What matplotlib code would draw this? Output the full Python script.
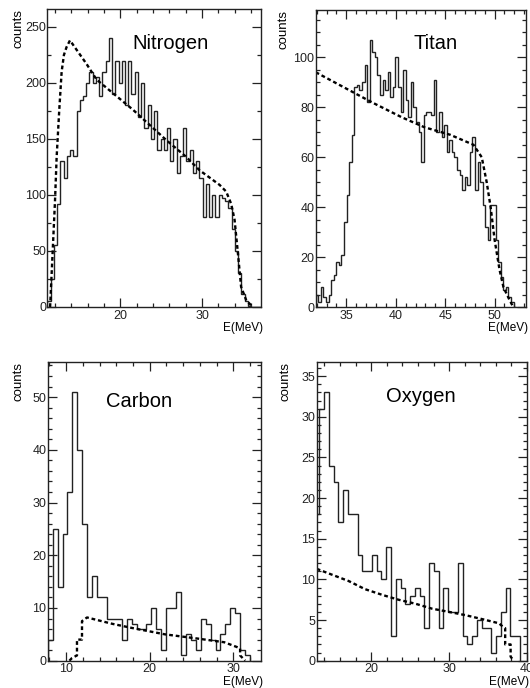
import numpy as np
import matplotlib.pyplot as plt
from matplotlib.ticker import MultipleLocator

plt.rcParams['font.family'] = ['Liberation Sans', 'DejaVu Sans']

# Nitrogen: measured histogram (bin start, bin width, counts) and simulation curve
n_lo, n_w = 11.1, 0.395
n_counts = [5, 25, 55, 92, 130, 115, 135, 140, 135, 175, 185, 188, 200, 210, 200, 205,
            188, 210, 220, 240, 190, 220, 200, 220, 180, 220, 190, 210, 170, 200, 160, 180,
            150, 175, 140, 150, 140, 160, 130, 150, 120, 135, 160, 130, 140, 120, 130, 115,
            80, 110, 80, 100, 80, 100, 97, 95, 88, 70, 50, 30, 12, 5, 1, 0, 0, 0]
n_sim_e = [11.42, 12.02, 12.22, 12.54, 12.83, 13.11, 13.43, 13.85, 15.87, 17.10, 21.56,
           25.62, 28.06, 29.70, 32.14, 32.95, 33.56, 33.97, 34.38, 34.77, 35.4, 36.19]
n_sim_c = [0, 95, 134, 176, 210, 225, 232, 238, 217, 203, 176,
           149, 134, 122, 109, 103, 92, 78, 48, 18, 6, 0]

# Titan
t_lo, t_w = 31.9, 0.26
t_counts = [5, 2, 8, 4, 2, 5, 11, 13, 18, 17, 21, 34, 45, 58, 69, 88, 89, 87, 90, 97,
            82, 107, 102, 100, 93, 85, 91, 87, 94, 84, 88, 100, 88, 78, 95, 83, 76, 90,
            80, 74, 70, 58, 77, 78, 78, 77, 91, 70, 78, 68, 73, 62, 67, 62, 60, 55, 53,
            47, 52, 49, 62, 68, 47, 58, 50, 41, 32, 27, 41, 41, 27, 18, 12, 7, 8, 4, 2, 0]
t_sim_e = [31.9, 37.57, 40.6, 42.9, 45.5, 47.86, 48.7, 49.2, 49.6, 50.0, 50.5, 50.9, 51.5, 51.9]
t_sim_c = [94, 82, 76, 72, 69, 65, 60, 50, 40, 27, 15, 8, 3, 0]

# Carbon
c_lo, c_w = 7.8, 0.59
c_counts = [4, 25, 14, 24, 32, 51, 40, 26, 12, 16, 12, 12, 8, 8, 8, 4, 8, 7, 6, 6, 7,
            10, 6, 2, 10, 10, 13, 1, 5, 4, 2, 8, 7, 4, 2, 5, 7, 10, 9, 2, 1]
c_sim_e = [10.4, 10.7, 11.3, 11.3, 11.9, 11.9, 12.5, 15.5, 17.9, 21.8, 25.7, 28.9, 30.4,
           30.8, 30.8, 31.4]
c_sim_c = [0, 0.5, 1, 4, 4, 7.5, 8.2, 7.0, 6.2, 5.0, 4.2, 3.5, 2.6, 2.3, 1.0, 0]

# Oxygen
o_lo, o_w = 12.73, 0.613
o_counts = [18, 31, 33, 24, 22, 17, 21, 18, 18, 13, 11, 11, 13, 11, 10, 14, 3, 10, 9, 7,
            8, 9, 8, 4, 12, 11, 4, 9, 6, 6, 12, 3, 2, 3, 5, 4, 4, 1, 3, 6, 9, 3, 3]
o_sim_e = [13.0, 14.9, 17.1, 19.2, 21.4, 23.5, 25.7, 27.8, 30.0, 32.1, 34.3, 36.4, 37.0,
           37.2, 37.2, 37.9, 37.9, 38.3]
o_sim_c = [11.3, 10.6, 9.8, 8.8, 8.1, 7.5, 7.0, 6.4, 6.0, 5.6, 5.1, 4.6, 4.1, 4.0, 2.0,
           2.0, 0.5, 0]

panels = [
    # name, rect, lo, width, counts, sim_e, sim_c, xlim, ylim, xmaj, xmin, ymaj, ymin, xticks, title pos
    ('Nitrogen', [0.0896, 0.5538, 0.4028, 0.4331], n_lo, n_w, n_counts, n_sim_e, n_sim_c,
     (11.1, 37.2), (0, 266), 10, 2, 50, 25, (0.578, 0.883), -0.138),
    ('Titan', [0.5957, 0.5533, 0.3972, 0.4326], t_lo, t_w, t_counts, t_sim_e, t_sim_c,
     (31.9, 53.2), (0, 119), 5, 1, 20, 5, (0.567, 0.888), -0.155),
    ('Carbon', [0.0900, 0.0397, 0.4025, 0.4337], c_lo, c_w, c_counts, c_sim_e, c_sim_c,
     (7.8, 33.3), (0, 56.6), 10, 2, 10, 2, (0.43, 0.868), -0.135),
    ('Oxygen', [0.5975, 0.0397, 0.3968, 0.4337], o_lo, o_w, o_counts, o_sim_e, o_sim_c,
     (13, 40), (0, 36.7), 10, 2, 5, 1, (0.493, 0.887), -0.146),
]

fig = plt.figure(figsize=(5.3, 6.88), dpi=100)

for (name, rect, lo, w, counts, se, sc, xl, yl, xmaj, xmin, ymaj, ymin, tpos, cx) in panels:
    ax = fig.add_axes(rect)
    edges = lo + w * np.arange(len(counts) + 1)
    ax.stairs(counts, edges, color='#222222', lw=1.0)
    ax.plot(se, sc, color='black', lw=1.7, ls=(0, (1.6, 1.2)))
    ax.set_xlim(*xl)
    ax.set_ylim(*yl)
    ax.xaxis.set_major_locator(MultipleLocator(xmaj))
    ax.xaxis.set_minor_locator(MultipleLocator(xmin))
    ax.yaxis.set_major_locator(MultipleLocator(ymaj))
    ax.yaxis.set_minor_locator(MultipleLocator(ymin))
    ax.tick_params(which='both', direction='in', top=True, right=True, labelsize=9,
                   width=0.9, colors='#222222')
    ax.tick_params(which='major', length=6.5)
    ax.tick_params(which='minor', length=3)
    ax.tick_params(axis='x', pad=2)
    ax.tick_params(axis='y', pad=1)
    for s in ax.spines.values():
        s.set_linewidth(1.0)
        s.set_color('#222222')
    ax.text(tpos[0], tpos[1], name, transform=ax.transAxes, ha='center', va='center',
            fontsize=14.5)
    ax.text(cx, 1.0, 'counts', transform=ax.transAxes, rotation=90, ha='center',
            va='top', fontsize=9.5)
    ax.text(1.01, -0.05, 'E(MeV)', transform=ax.transAxes, ha='right', va='top',
            fontsize=8.5)

fig.savefig('out.png', dpi=100)
